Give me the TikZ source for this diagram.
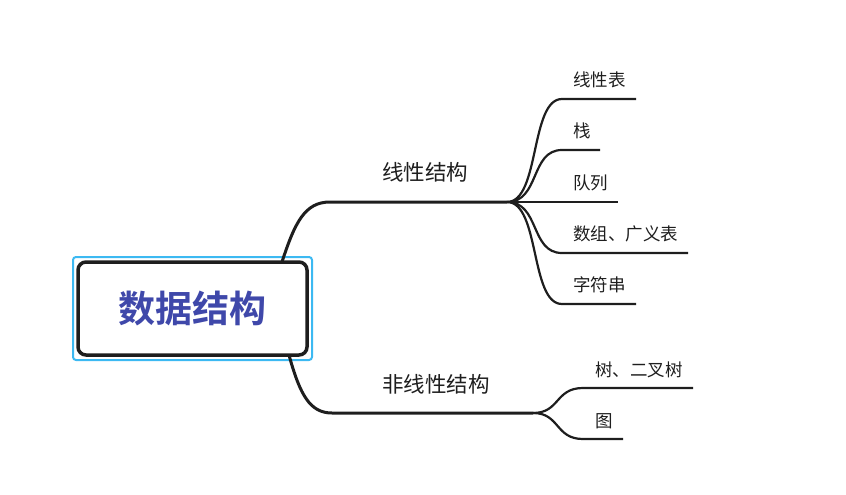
\documentclass[tikz,border=0pt]{standalone}
\usepackage{fontspec}
\usepackage{tikz}
\usetikzlibrary{positioning,calc,fit}
\newfontfamily\cjk{Noto Sans CJK SC}
\newfontfamily\cjkbold{Noto Sans CJK SC Bold}
\definecolor{rootblue}{HTML}{3F48AA}
\definecolor{framecyan}{HTML}{3CB9F2}
\definecolor{linedark}{HTML}{1E1E1E}

\begin{document}
\begin{tikzpicture}[x=1pt,y=-1pt,
  root/.style={draw=linedark,line width=3.5pt,rounded corners=8pt,fill=white,outer sep=0pt,
    minimum width=229pt,minimum height=93pt,text=rootblue,font=\cjkbold\fontsize{37}{40}\selectfont},
  frame/.style={draw=framecyan,line width=2pt,rounded corners=3pt,inner sep=5pt},
  mainline/.style={draw=linedark,line width=3pt},
  subline/.style={draw=linedark,line width=2.2pt},
  mainlabel/.style={anchor=west,inner sep=0pt,text=linedark,font=\cjk\fontsize{21.5}{24}\selectfont},
  sublabel/.style={anchor=west,inner sep=0pt,text=linedark,font=\cjk\fontsize{17.5}{20}\selectfont}
]
\useasboundingbox (0,0) rectangle (846,495);

% root
\node[root] (root) at (192.5,308.5) {数据结构};
\node[frame,fit=(root)] (rootframe) {};

% main branches
\coordinate (lin) at (330,202);
\coordinate (linj) at (507,202);
\coordinate (non) at (332,413);
\coordinate (nonj) at (533,413);
\node[mainlabel] (linlabel) at (382,172) {线性结构};
\node[mainlabel] (nonlabel) at (382,384) {非线性结构};
\draw[mainline] ($(root.north east)+(-25,0)$) .. controls (295,222) and (305,202) .. (lin) -- (linj);
\draw[mainline] ($(root.south east)+(-18,0)$) .. controls (300,395) and (310,413) .. (non) -- (nonj);

% linear leaves
\foreach \name/\txt/\y/\xend in {a/线性表/99/636, b/栈/150/600, c/队列/202/618, d/数组、广义表/253/688, e/字符串/304/636}{
  \coordinate (\name s) at (562,\y);
  \coordinate (\name e) at (\xend,\y);
  \node[sublabel] (\name) at (573,\y-19) {\txt};
  \draw[subline] (linj) .. controls (540,202) and (530,\y) .. (\name s) -- (\name e);
}

% nonlinear leaves
\foreach \name/\txt/\y/\xend in {f/树、二叉树/388/693, g/图/439/623}{
  \coordinate (\name s) at (583,\y);
  \coordinate (\name e) at (\xend,\y);
  \node[sublabel] (\name) at (595,\y-18) {\txt};
  \draw[subline] (nonj) .. controls (560,413) and (555,\y) .. (\name s) -- (\name e);
}
\end{tikzpicture}
\end{document}
